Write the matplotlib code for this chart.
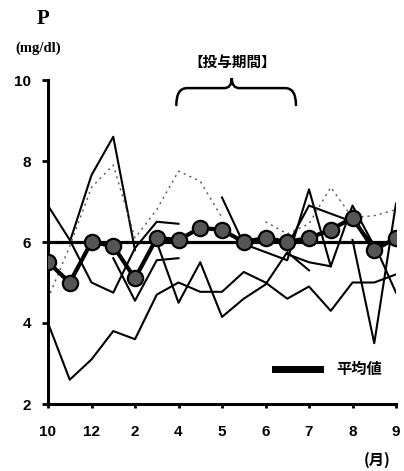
import numpy as np
import matplotlib.pyplot as plt
from matplotlib.lines import Line2D
from matplotlib.path import Path
from matplotlib.patches import PathPatch

nan = np.nan
x = np.arange(17)
tick_pos = [0, 2, 4, 6, 8, 10, 12, 14, 16]
tick_labels = ["10", "12", "2", "4", "5", "6", "7", "8", "9"]

mean = [5.5, 5.0, 6.0, 5.9, 5.1, 6.1, 6.05, 6.35, 6.3, 6.0, 6.1, 6.0, 6.1, 6.3, 6.6, 5.8, 6.1]

# individual patients (solid)
sA = [6.9, 6.05, 5.0, 4.75, 5.85, 6.5, 6.45, nan, nan, nan, nan, nan, nan, nan, nan, nan, nan]
sB = [nan, 6.0, 7.65, 8.6, 5.8, nan, nan, nan, nan, nan, nan, nan, nan, nan, nan, nan, nan]
sC = [nan, nan, nan, 5.6, 4.55, 5.55, 5.6, nan, nan, nan, nan, nan, nan, nan, nan, nan, nan]
sE = [nan, nan, nan, nan, nan, nan, nan, nan, 7.1, 5.95, 5.75, 5.55, 7.3, 5.4, nan, nan, nan]
sF = [nan, nan, nan, nan, nan, nan, nan, nan, nan, nan, nan, 5.9, 6.9, 6.7, 6.5, 5.95, 4.75]
sG = [nan, nan, nan, nan, nan, nan, nan, nan, nan, nan, nan, nan, nan, nan, 6.05, 3.5, 6.95]
sH = [nan, nan, nan, nan, nan, nan, nan, nan, nan, nan, nan, 5.7, 5.5, 5.4, 6.9, 5.9, nan]
sU = [nan, nan, nan, nan, nan, 6.0, 4.5, 5.5, 4.15, 4.6, 4.95, 5.75, 5.3, nan, nan, nan, nan]
sT = [4.0, 2.6, 3.1, 3.8, 3.6, 4.7, 5.0, 4.77, 4.77, 5.26, 5.0, 4.6, 4.9, 4.3, 5.0, 5.0, 5.2]
# dotted patient
sD = [4.6, 5.9, 7.35, 7.9, 6.1, 6.8, 7.75, 7.5, 6.6, nan, 6.5, 6.2, 6.45, 7.35, 6.6, 6.65, 6.8]

solid = [sA, sB, sC, sE, sF, sG, sH, sU, sT]

fig = plt.figure(figsize=(4.04, 4.71), dpi=100)
ax = fig.add_axes([48 / 404, 67 / 471, 348 / 404, 324 / 471])

for s in solid:
    ax.plot(x, s, color="black", lw=1.5, zorder=2)
ax.plot(x, sD, color="#555555", lw=1.0, ls=(0, (1.5, 3)), zorder=2)

ax.axhline(6, color="black", lw=2.3, zorder=3)
ax.plot(x, mean, color="black", lw=3, marker="o", ms=11,
        markerfacecolor="#555555", markeredgecolor="black", markeredgewidth=1.6, zorder=4)

ax.set_xlim(0, 16)
ax.set_ylim(2, 10)
ax.set_xticks(tick_pos)
ax.set_xticklabels(tick_labels)
ax.set_yticks([2, 4, 6, 8, 10])
for sp in ["top", "right"]:
    ax.spines[sp].set_visible(False)
for sp in ["left", "bottom"]:
    ax.spines[sp].set_linewidth(2.2)
ax.tick_params(axis="y", direction="out", length=4, width=2, pad=8,
               labelsize=11)
ax.tick_params(axis="x", direction="out", length=3, width=2, pad=12,
               labelsize=11)
for lab in ax.get_xticklabels() + ax.get_yticklabels():
    lab.set_fontweight("bold")
    lab.set_family("Liberation Sans")

# curly brace over the dosing period
x0, xm, x1 = 5.9, 8.45, 11.4
yb, yh, yt = 9.38, 9.8, 10.05
verts = [(x0, yb), (x0, yh), (x0 + 0.5, yh),
         (xm - 0.35, yh),
         (xm, yh), (xm, yt),
         (xm, yh), (xm + 0.35, yh),
         (x1 - 0.5, yh),
         (x1, yh), (x1, yb)]
codes = [Path.MOVETO, Path.CURVE3, Path.CURVE3,
         Path.LINETO,
         Path.CURVE3, Path.CURVE3,
         Path.CURVE3, Path.CURVE3,
         Path.LINETO,
         Path.CURVE3, Path.CURVE3]
ax.add_patch(PathPatch(Path(verts, codes), fill=False, lw=1.8, ec="black",
                       capstyle="round", clip_on=False))
ax.text(xm, 10.45, "【投与期間】", ha="center", va="center", fontsize=10.5,
        fontweight="bold", family=["Noto Sans CJK JP", "DejaVu Sans"])

ax.legend(handles=[Line2D([], [], color="black", lw=5)], labels=["平均値"],
          loc="lower right", bbox_to_anchor=(1.0, 0.04), frameon=False,
          handlelength=2.9, handletextpad=1.1,
          prop={"family": ["Noto Sans CJK JP"], "size": 11, "weight": "bold"})

fig.text(43 / 404, 1 - 19 / 471, "P", ha="center", va="center", fontsize=15,
         family="Liberation Serif", fontweight="bold")
fig.text(38 / 404, 1 - 48 / 471, "(mg/dl)", ha="center", va="center", fontsize=10.5,
         family="Liberation Serif", fontweight="bold")
fig.text(377 / 404, 1 - 460 / 471, "(月)", ha="center", va="center", fontsize=11,
         fontweight="bold", family=["Noto Sans CJK JP", "DejaVu Sans"])

fig.savefig("out.png", dpi=100)
